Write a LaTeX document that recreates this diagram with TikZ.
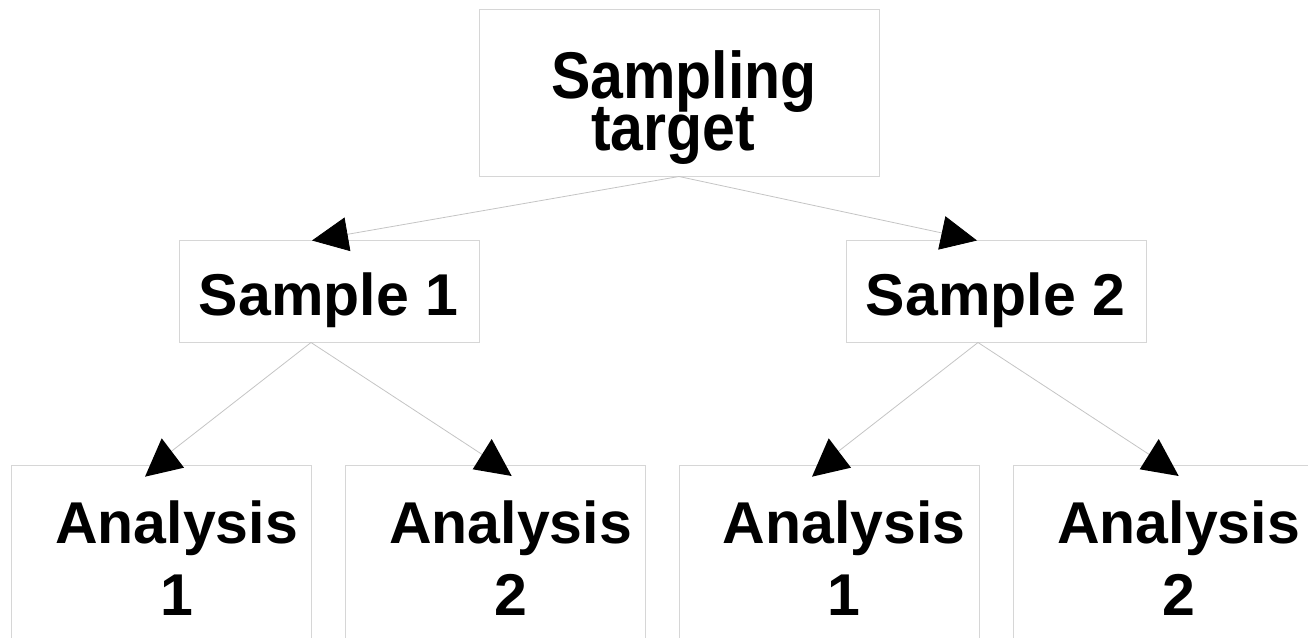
\documentclass[tikz,border=0pt]{standalone}
\usepackage{fontspec}
\setmainfont{Liberation Sans}
\usepackage{xcolor}
\definecolor{BoxGrey}{HTML}{D6D6D6}
\definecolor{LinkGrey}{HTML}{C4C4C4}
\usetikzlibrary{arrows.meta,positioning}
\tikzset{>=Triangle}
\tikzstyle{bigtip}=[-{Triangle[length=36pt,width=34pt,color=black]}]
\newcommand\treefont{\fontsize{59}{72}\selectfont\bfseries}
\newcommand\targetfont{\fontsize{59}{52}\selectfont\bfseries\lineskiplimit=-100pt\relax}
\newcommand\tall[1]{\scalebox{1}[1.12]{#1}}
% filled triangle that stands upright at the end of a lower link
\newcommand\uprightTip[3]{
	\fill (#1) -- ++(#2) -- ++(#3) -- cycle;
}

\begin{document}
\begin{tikzpicture}[x=1pt,y=-1pt,
	box/.style={draw=BoxGrey,line width=1pt,inner sep=0pt,minimum width=300pt},
	boxtext/.style={font=\treefont,align=center,inner sep=0pt,anchor=base},
	link/.style={LinkGrey,line width=0.8pt}]
	
	\useasboundingbox (0,0) rectangle (1308,637);
	\clip (0,0) rectangle (1308,637);
	
	\def\AnaTop{465}
	\def\AnaHeight{185}
	\def\AnaShift{15}
	
	%% BOXES
	\node[box,minimum width=400pt,minimum height=167pt] (target) at (679,92.5) {};
	\node[box,minimum height=102pt] (sam1) at (329,291) {};
	\node[box,minimum height=102pt] (sam2) at (996,291) {};
	
	\node[box,minimum height=\AnaHeight pt] (ana11) at (161.5,\AnaTop+\AnaHeight/2) {};
	\node[box,minimum height=\AnaHeight pt] (ana12) at (495.5,\AnaTop+\AnaHeight/2) {};
	\node[box,minimum height=\AnaHeight pt] (ana21) at (829,\AnaTop+\AnaHeight/2) {};
	\node[box,minimum height=\AnaHeight pt] (ana22) at (1163.5,\AnaTop+\AnaHeight/2) {};
	
	%% TEXTS (base = baseline of the last line)
	\node[boxtext,font=\targetfont] (target-txt) at (673,150) {\hspace*{22pt}\tall{Sampling}\\\tall{target}};
	\node[boxtext] (sam1-txt) at (328.5,315) {Sample 1};
	\node[boxtext] (sam2-txt) at (995.5,315) {Sample 2};
	
	\node[boxtext] (ana11-txt) at (161.5+\AnaShift,615) {Analysis\\1};
	\node[boxtext] (ana12-txt) at (495.5+\AnaShift,615) {Analysis\\2};
	\node[boxtext] (ana21-txt) at (829+\AnaShift,615) {Analysis\\1};
	\node[boxtext] (ana22-txt) at (1163.5+\AnaShift,615) {Analysis\\2};
	
	%% UPPER LINKS
	\draw[link,bigtip] (target.south) -- ([xshift=-17pt,yshift=-1pt]sam1.north);
	\draw[link,bigtip] (target.south) -- ([xshift=-19pt,yshift=-1pt]sam2.north);
	
	%% LOWER LINKS
	\coordinate (end11) at (165,456.3);
	\coordinate (end12) at (492,460.9);
	\coordinate (end21) at (832,456.3);
	\coordinate (end22) at (1159,460.9);
	
	\draw[link] ([xshift=-18pt]sam1.south) -- (end11);
	\draw[link] ([xshift=-18pt]sam1.south) -- (end12);
	\draw[link] ([xshift=-18pt]sam2.south) -- (end21);
	\draw[link] ([xshift=-18pt]sam2.south) -- (end22);
	
	\uprightTip{161.7,438.3}{-16.7,38.4}{39,-9}
	\uprightTip{491.7,439}{-19,30.3}{39,6.7}
	\uprightTip{828.7,438.3}{-16.7,38.4}{39,-9}
	\uprightTip{1158.7,439}{-19,30.3}{39,6.7}
	
\end{tikzpicture}
\end{document}
